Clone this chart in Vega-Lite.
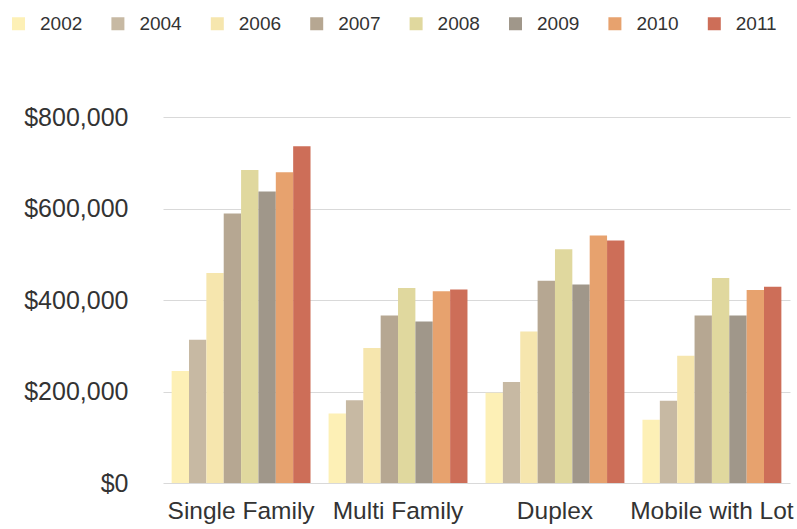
{
  "$schema": "https://vega.github.io/schema/vega-lite/v6.json",
  "autosize": {"type": "none"},
  "width": 627,
  "height": 366,
  "padding": {"left": 163, "top": 117, "right": 7, "bottom": 46},
  "background": "#ffffff",
  "config": {
    "view": {"stroke": null},
    "font": "Liberation Sans",
    "axis": {"labelFont": "Liberation Sans", "labelColor": "#333333"},
    "legend": {"labelFont": "Liberation Sans", "labelColor": "#333333"}
  },
  "data": {
    "values": [
      {"type": "Single Family", "year": "2002", "price": 245000},
      {"type": "Single Family", "year": "2004", "price": 313000},
      {"type": "Single Family", "year": "2006", "price": 459000},
      {"type": "Single Family", "year": "2007", "price": 589000},
      {"type": "Single Family", "year": "2008", "price": 684000},
      {"type": "Single Family", "year": "2009", "price": 637000},
      {"type": "Single Family", "year": "2010", "price": 679000},
      {"type": "Single Family", "year": "2011", "price": 736000},
      {"type": "Multi Family", "year": "2002", "price": 152000},
      {"type": "Multi Family", "year": "2004", "price": 181000},
      {"type": "Multi Family", "year": "2006", "price": 295000},
      {"type": "Multi Family", "year": "2007", "price": 366000},
      {"type": "Multi Family", "year": "2008", "price": 426000},
      {"type": "Multi Family", "year": "2009", "price": 353000},
      {"type": "Multi Family", "year": "2010", "price": 419000},
      {"type": "Multi Family", "year": "2011", "price": 423000},
      {"type": "Duplex", "year": "2002", "price": 197000},
      {"type": "Duplex", "year": "2004", "price": 221000},
      {"type": "Duplex", "year": "2006", "price": 331000},
      {"type": "Duplex", "year": "2007", "price": 442000},
      {"type": "Duplex", "year": "2008", "price": 511000},
      {"type": "Duplex", "year": "2009", "price": 434000},
      {"type": "Duplex", "year": "2010", "price": 541000},
      {"type": "Duplex", "year": "2011", "price": 530000},
      {"type": "Mobile with Lot", "year": "2002", "price": 138000},
      {"type": "Mobile with Lot", "year": "2004", "price": 180000},
      {"type": "Mobile with Lot", "year": "2006", "price": 278000},
      {"type": "Mobile with Lot", "year": "2007", "price": 366000},
      {"type": "Mobile with Lot", "year": "2008", "price": 448000},
      {"type": "Mobile with Lot", "year": "2009", "price": 366000},
      {"type": "Mobile with Lot", "year": "2010", "price": 422000},
      {"type": "Mobile with Lot", "year": "2011", "price": 429000}
    ]
  },
  "mark": {"type": "bar"},
  "encoding": {
    "x": {
      "field": "type",
      "type": "nominal",
      "sort": ["Single Family", "Multi Family", "Duplex", "Mobile with Lot"],
      "scale": {"paddingInner": 0.115, "paddingOuter": 0.055},
      "axis": {
        "title": null,
        "labelAngle": 0,
        "labelFontSize": 24.5,
        "labelPadding": 16,
        "ticks": false,
        "domain": false
      }
    },
    "xOffset": {"field": "year", "type": "nominal", "scale": {"paddingInner": 0, "paddingOuter": 0}},
    "y": {
      "field": "price",
      "type": "quantitative",
      "scale": {"domain": [0, 800000], "nice": false},
      "axis": {
        "title": null,
        "values": [0, 200000, 400000, 600000, 800000],
        "format": "$,.0f",
        "labelFontSize": 25,
        "labelPadding": 35,
        "ticks": false,
        "domain": false,
        "grid": true,
        "gridColor": "#d9d9d9",
        "gridWidth": 1
      }
    },
    "color": {
      "field": "year",
      "type": "nominal",
      "scale": {
        "domain": ["2002", "2004", "2006", "2007", "2008", "2009", "2010", "2011"],
        "range": ["#fdf0b6", "#c7b9a3", "#f6e6ae", "#b6a792", "#e0d89e", "#a0978a", "#e7a26e", "#cd6e58"]
      },
      "legend": {
        "title": null,
        "orient": "none",
        "direction": "horizontal",
        "legendX": -154,
        "legendY": -103,
        "columns": 8,
        "padding": 0,
        "symbolType": "square",
        "symbolSize": 169,
        "symbolStrokeWidth": 0,
        "labelFontSize": 19,
        "labelOffset": 12,
        "columnPadding": 25.4
      }
    }
  }
}
